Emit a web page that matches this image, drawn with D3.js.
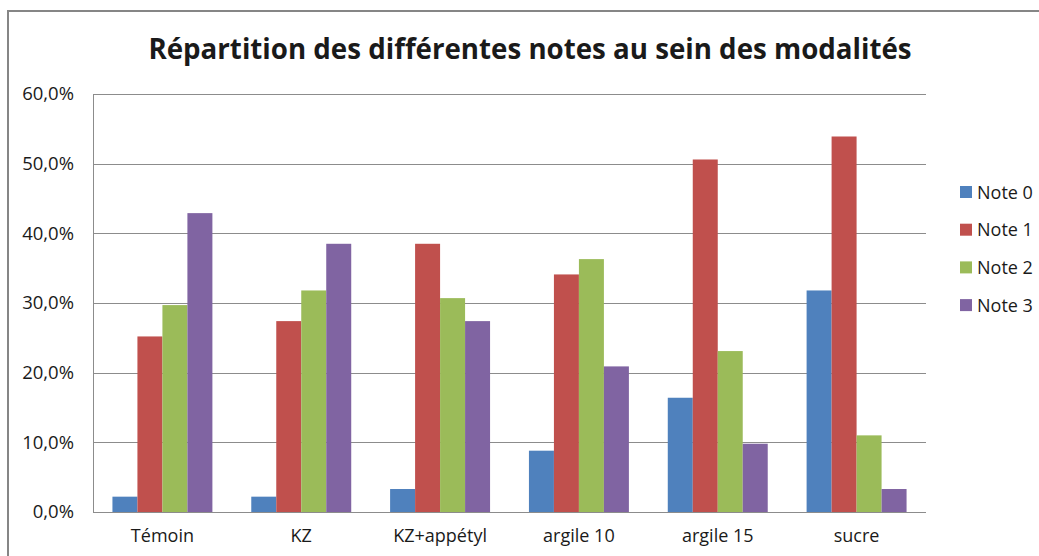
<!DOCTYPE html>
<html>
<head>
<meta charset="utf-8">
<script src="https://cdn.jsdelivr.net/npm/d3@7"></script>
<style>
  body { margin: 0; background: #fff; }
  text { font-family: "Open Sans", "Liberation Sans", sans-serif; fill: #1a1a1a; }
</style>
</head>
<body>
<script>
// Width and Height
const w = 1039;
const h = 556;

// Data
const categories = ["Témoin", "KZ", "KZ+appétyl", "argile 10", "argile 15", "sucre"];
const seriesNames = ["Note 0", "Note 1", "Note 2", "Note 3"];
const note0 = [2.2, 2.2, 3.3, 8.8, 16.4, 31.8];
const note1 = [25.2, 27.4, 38.5, 34.1, 50.6, 53.9];
const note2 = [29.7, 31.8, 30.7, 36.3, 23.1, 11.0];
const note3 = [42.9, 38.5, 27.4, 20.9, 9.8, 3.3];
const yTicks = [0, 10, 20, 30, 40, 50, 60];
const colors = ["#4f81bd", "#c0504d", "#9bbb59", "#8064a2"];

const series = [note0, note1, note2, note3];

// plot area
const plotLeft = 93, plotRight = 926, plotTop = 94, plotBottom = 512;

// Create SVG
const svg = d3.select("body")
    .append("svg")
    .attr("width", w)
    .attr("height", h);

// outer frame
svg.append("rect")
    .attr("x", 8)
    .attr("y", 11)
    .attr("width", 1100)
    .attr("height", 600)
    .attr("fill", "none")
    .attr("stroke", "#868686")
    .attr("stroke-width", 2);

// title
svg.append("text")
    .attr("x", 530)
    .attr("y", 59)
    .attr("text-anchor", "middle")
    .style("font-size", "27.7px")
    .style("font-weight", "bold")
    .text("Répartition des différentes notes au sein des modalités");

// scales
const x0 = d3.scaleBand()
    .domain(categories)
    .range([plotLeft, plotRight])
    .paddingInner(0.28)
    .paddingOuter(0.14);

const x1 = d3.scaleBand()
    .domain(seriesNames)
    .range([0, x0.bandwidth()]);

const y = d3.scaleLinear()
    .domain([0, 60])
    .range([plotBottom, plotTop]);

// gridlines
svg.append("g")
    .selectAll("line")
    .data(yTicks)
    .enter()
    .append("line")
    .attr("x1", plotLeft)
    .attr("x2", plotRight)
    .attr("y1", d => Math.round(y(d)) + 0.5)
    .attr("y2", d => Math.round(y(d)) + 0.5)
    .attr("stroke", "#8c8c8c")
    .attr("stroke-width", 1);

// left axis line
svg.append("line")
    .attr("x1", plotLeft + 0.5)
    .attr("x2", plotLeft + 0.5)
    .attr("y1", plotTop)
    .attr("y2", plotBottom)
    .attr("stroke", "#8c8c8c");

// y axis
const yAxis = d3.axisLeft(y)
    .tickValues(yTicks)
    .tickSize(0)
    .tickPadding(19)
    .tickFormat(d => d.toFixed(1).replace(".", ",") + "%");

svg.append("g")
    .attr("transform", "translate(" + plotLeft + ",0)")
    .call(yAxis)
    .call(g => g.select(".domain").remove())
    .selectAll("text")
    .style("font-size", "18.5px")
    .style("font-family", "\"Open Sans\", sans-serif")
    .attr("fill", "#1a1a1a");

// x axis
const xAxis = d3.axisBottom(x0)
    .tickSize(0)
    .tickPadding(17);

svg.append("g")
    .attr("transform", "translate(0," + plotBottom + ")")
    .call(xAxis)
    .call(g => g.select(".domain").remove())
    .selectAll("text")
    .style("font-size", "18px")
    .style("font-family", "\"Open Sans\", sans-serif")
    .attr("fill", "#1a1a1a");

// bars
const groups = svg.append("g")
    .selectAll("g")
    .data(categories)
    .enter()
    .append("g")
    .attr("transform", d => "translate(" + x0(d) + ",0)");

groups.selectAll("rect")
    .data((d, i) => seriesNames.map((s, j) => ({ key: s, value: series[j][i], idx: j })))
    .enter()
    .append("rect")
    .attr("x", d => x1(d.key))
    .attr("y", d => y(d.value))
    .attr("width", x1.bandwidth())
    .attr("height", d => y(0) - y(d.value))
    .attr("fill", d => colors[d.idx]);

// legend
const legend = svg.append("g")
    .selectAll("g")
    .data(seriesNames)
    .enter()
    .append("g")
    .attr("transform", (d, i) => "translate(960," + (192 + i * 37.7) + ")");

legend.append("rect")
    .attr("x", 0)
    .attr("y", -6)
    .attr("width", 12)
    .attr("height", 12)
    .attr("fill", (d, i) => colors[i]);

legend.append("text")
    .attr("x", 17)
    .attr("y", 6.5)
    .style("font-size", "18px")
    .text(d => d);
</script>
</body>
</html>
